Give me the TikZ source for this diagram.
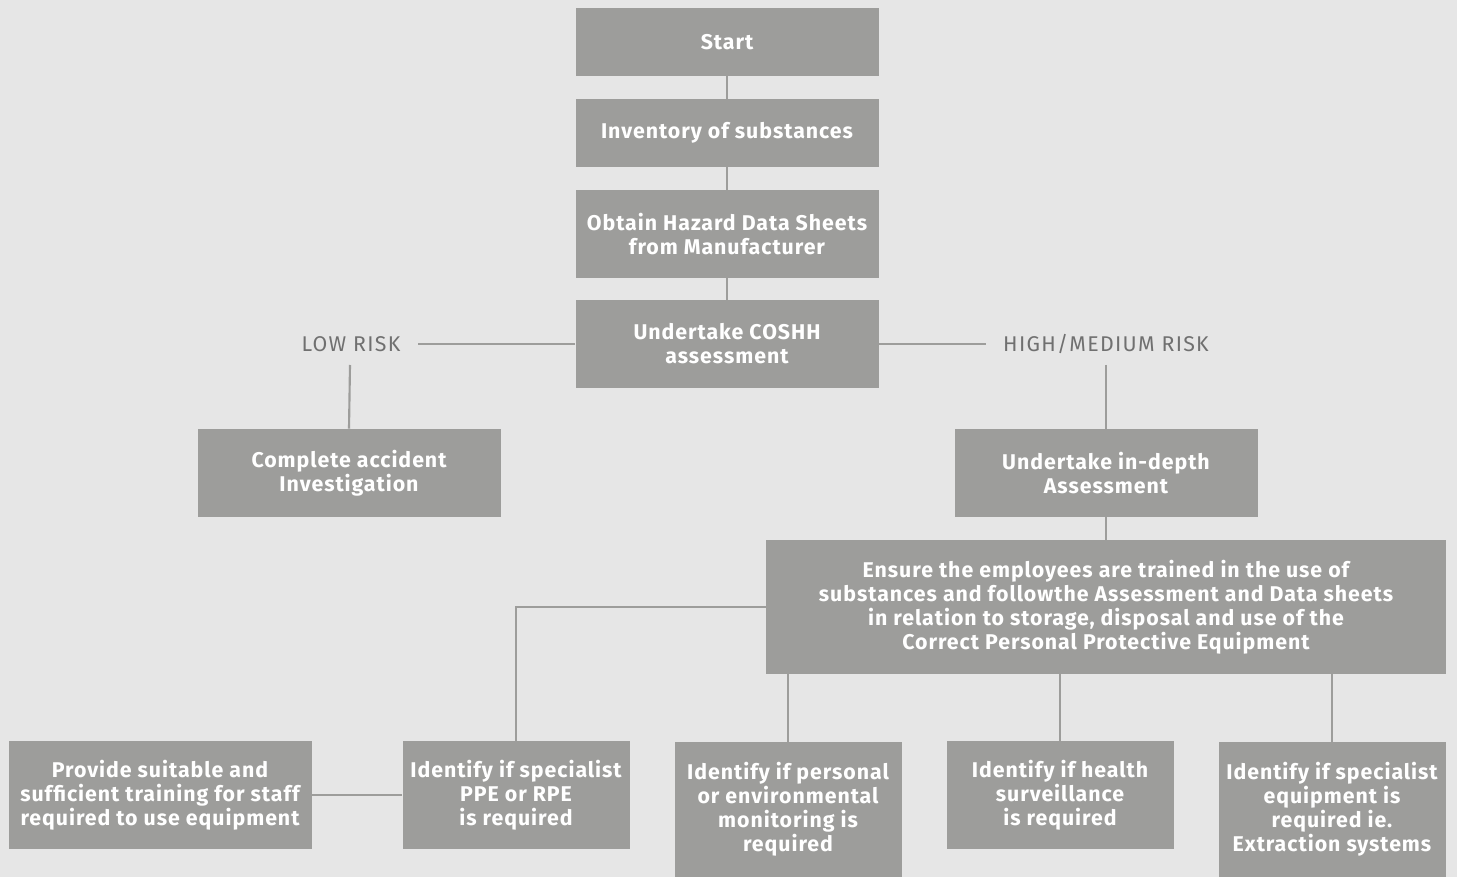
\documentclass[tikz,border=0pt]{standalone}
\usepackage{fontspec}
\setmainfont{Fira Sans}
\newfontfamily\boxfont[LetterSpace=4.5]{Fira Sans}
\newfontfamily\labfont[LetterSpace=6]{Fira Sans}
\definecolor{bgc}{HTML}{E6E6E6}
\definecolor{boxc}{HTML}{9D9D9B}
\definecolor{labc}{HTML}{707070}
\begin{document}
\begin{tikzpicture}[x=0.75pt,y=-0.75pt,
  box/.style={fill=boxc,draw=none,inner sep=0pt,align=center,text=white,
    font=\boxfont\fontsize{16}{18}\selectfont\bfseries},
  lab/.style={inner sep=0pt,text=labc,font=\labfont\fontsize{16}{18}\selectfont},
  conn/.style={draw=boxc,line width=1.6pt}]
\fill[bgc] (0,0) rectangle (1457,877);
\useasboundingbox (0,0) rectangle (1457,877);
\node[box,minimum width=227.25pt,minimum height=51pt] (start) at (727,42) {Start};
\node[box,minimum width=227.25pt,minimum height=51pt] (inv) at (727,133) {Inventory of substances};
\node[box,minimum width=227.25pt,minimum height=66pt] (obt) at (727,234) {Obtain Hazard Data Sheets\\from Manufacturer};
\node[box,minimum width=227.25pt,minimum height=66pt] (cosh) at (727,344) {Undertake COSHH\\assessment};
\node[lab] (low) at (351,344) {LOW RISK};
\node[lab] (high) at (1106,344) {HIGH/MEDIUM RISK};
\node[box,minimum width=227.25pt,minimum height=66pt] (acc) at (349,473) {Complete accident\\Investigation};
\node[box,minimum width=227.25pt,minimum height=66pt] (dep) at (1106,473) {Undertake in-depth\\Assessment};
\node[box,minimum width=510pt,minimum height=100.5pt] (ens) at (1106,607) {Ensure the employees are trained in the use of\\substances and followthe Assessment and Data sheets\\in relation to storage, disposal and use of the\\Correct Personal Protective Equipment};
\node[box,minimum width=227.25pt,minimum height=81pt] (prov) at (160,795) {Provide suitable and\\sufficient training for staff\\required to use equipment};
\node[box,minimum width=170.25pt,minimum height=81pt] (ppe) at (516,795) {Identify if specialist\\PPE or RPE\\is required};
\node[box,minimum width=170.25pt,minimum height=101.25pt] (pers) at (788,809.5) {Identify if personal\\or environmental\\monitoring is\\required};
\node[box,minimum width=170.25pt,minimum height=81pt] (hlth) at (1060,795) {Identify if health\\surveillance\\is required};
\node[box,minimum width=170.25pt,minimum height=101.25pt] (spec) at (1332,809.5) {Identify if specialist\\equipment is\\required ie.\\Extraction systems};
\coordinate (lowend) at (418,344);
\coordinate (lowdown) at (350,365);
\coordinate (highend) at (986,344);
\coordinate (highdown) at (1106,365);
\draw[conn] (start.south) -- (inv.north);
\draw[conn] (inv.south) -- (obt.north);
\draw[conn] (obt.south) -- (cosh.north);
\draw[conn] (cosh.west) -- (lowend);
\draw[conn] (cosh.east) -- (highend);
\draw[conn] (lowdown) -- (acc.north);
\draw[conn] (highdown) -- (dep.north);
\draw[conn] (dep.south) -- (ens.north);
\draw[conn] (ens.west) -| (ppe.north);
\draw[conn] (prov.east) -- (ppe.west);
\draw[conn] (ens.south -| pers.north) -- (pers.north);
\draw[conn] (ens.south -| hlth.north) -- (hlth.north);
\draw[conn] (ens.south -| spec.north) -- (spec.north);
\end{tikzpicture}
\end{document}
